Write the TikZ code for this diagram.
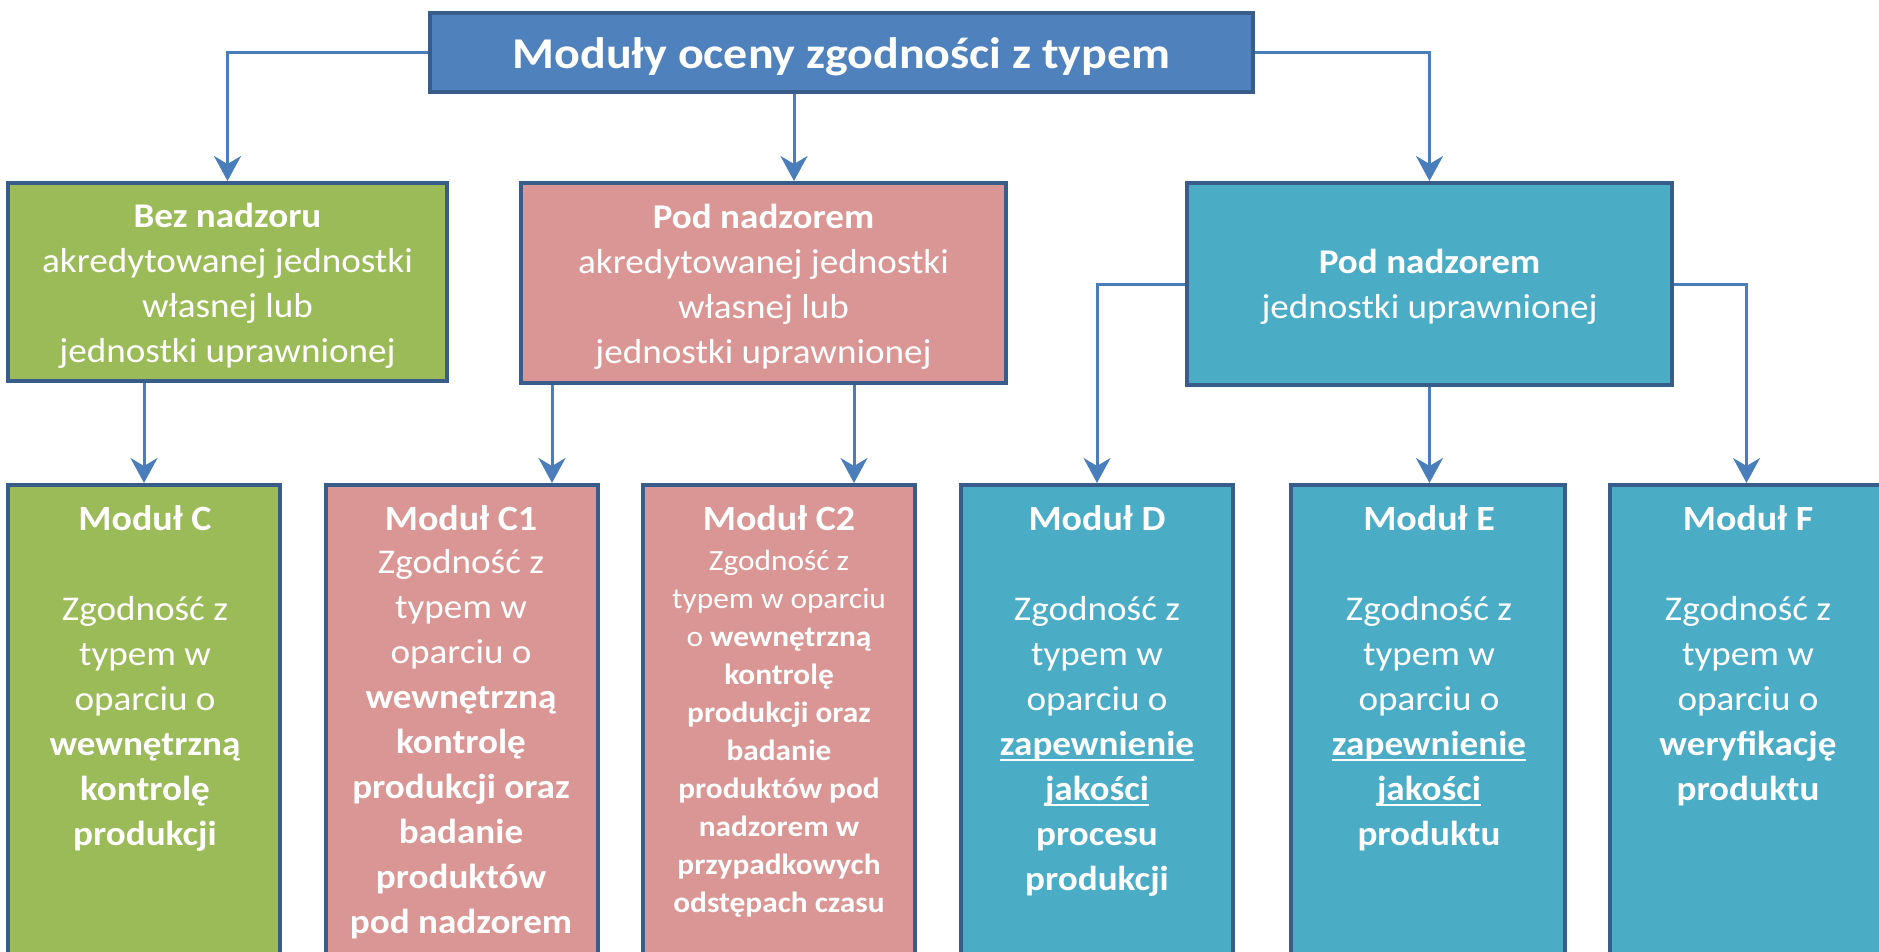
\documentclass[tikz,border=0pt]{standalone}
\usepackage{fontspec}
\setmainfont{Carlito}[FakeStretch=1.07]
\newfontfamily\titlefont{Carlito}[FakeStretch=1.09]
\usetikzlibrary{arrows.meta}
\definecolor{topfill}{HTML}{4F81BD}
\definecolor{edgecol}{HTML}{385D8A}
\definecolor{greenfill}{HTML}{9BBB59}
\definecolor{pinkfill}{HTML}{D99694}
\definecolor{tealfill}{HTML}{4BACC6}
\definecolor{linecol}{HTML}{4A7EBB}
\newcommand{\ulw}[1]{\sbox0{#1}\rlap{\rule[-6pt]{\wd0}{2.5pt}}\usebox0}
\tikzset{
  box/.style={draw=edgecol, line width=4pt, inner sep=0pt},
  modbox/.style={box, minimum width=272pt, minimum height=515pt},
  txt/.style={text=white, align=center, inner sep=0pt, anchor=north, font=\fontsize{34.7}{45}\selectfont},
  smalltxt/.style={txt, font=\fontsize{29.3}{38}\selectfont},
  head/.style={text=white, inner sep=0pt, anchor=base, font=\fontsize{35.5}{45}\selectfont\bfseries},
  ttl/.style={text=white, inner sep=0pt, anchor=base, font=\titlefont\fontsize{44}{50}\selectfont\bfseries},
  conn/.style={draw=linecol, line width=3pt, -{Stealth[length=25pt,width=27pt,inset=8pt]}}
}
\begin{document}
\begin{tikzpicture}[x=1pt,y=-1pt]
\useasboundingbox (0,0) rectangle (1879,951);
% boxes
\node[box, fill=topfill, minimum width=823pt, minimum height=79pt] (top) at (841.5,52.5) {};
\node[box, fill=greenfill, minimum width=439pt, minimum height=198pt] (bez) at (227.5,282) {};
\node[box, fill=pinkfill, minimum width=485pt, minimum height=200pt] (pink) at (763.5,283) {};
\node[box, fill=tealfill, minimum width=485pt, minimum height=202pt] (teal) at (1429.5,284) {};
\node[modbox, fill=greenfill] (mC) at (144,742.5) {};
\node[modbox, fill=pinkfill] (mC1) at (462,742.5) {};
\node[modbox, fill=pinkfill] (mC2) at (779,742.5) {};
\node[modbox, fill=tealfill] (mD) at (1097,742.5) {};
\node[modbox, fill=tealfill, minimum width=274pt] (mE) at (1428,742.5) {};
\node[modbox, fill=tealfill, minimum width=273pt] (mF) at (1746.5,742.5) {};
% texts
\node[ttl] (tt) at (841.5,68) {Moduły oceny zgodności z typem};
\node[txt] (tbez) at (227.5,195.5) {\strut\textbf{Bez nadzoru}\\akredytowanej jednostki\\własnej lub\\jednostki uprawnionej};
\node[txt] (tpink) at (763.5,196.5) {\strut\textbf{Pod nadzorem}\\akredytowanej jednostki\\własnej lub\\jednostki uprawnionej};
\node[txt] (tteal) at (1429.5,241.5) {\strut\textbf{Pod nadzorem}\\jednostki uprawnionej};
\node[head] (hC) at (145,530) {Moduł C};
\node[head] (hC1) at (461,530) {Moduł C1};
\node[head] (hC2) at (779,530) {Moduł C2};
\node[head] (hD) at (1097,530) {Moduł D};
\node[head] (hE) at (1429,530) {Moduł E};
\node[head] (hF) at (1748,530) {Moduł F};
\node[txt] (bC) at (145,588.5) {\strut Zgodność z\\typem w\\oparciu o\\\textbf{wewnętrzną}\\\textbf{kontrolę}\\\textbf{produkcji}};
\node[txt] (bC1) at (461,541.5) {\strut Zgodność z\\typem w\\oparciu o\\\textbf{wewnętrzną}\\\textbf{kontrolę}\\\textbf{produkcji oraz}\\\textbf{badanie}\\\textbf{produktów}\\\textbf{pod nadzorem}};
\node[smalltxt] (bC2) at (779,543.4) {\strut Zgodność z\\typem w oparciu\\o \textbf{wewnętrzną}\\\textbf{kontrolę}\\\textbf{produkcji oraz}\\\textbf{badanie}\\\textbf{produktów pod}\\\textbf{nadzorem w}\\\textbf{przypadkowych}\\\textbf{odstępach czasu}};
\node[txt] (bD) at (1097,588.5) {\strut Zgodność z\\typem w\\oparciu o\\\textbf{\ulw{zapewnienie}}\\\textbf{\ulw{jakości}}\\\textbf{procesu}\\\textbf{produkcji}};
\node[txt] (bE) at (1429,588.5) {\strut Zgodność z\\typem w\\oparciu o\\\textbf{\ulw{zapewnienie}}\\\textbf{\ulw{jakości}}\\\textbf{produktu}};
\node[txt] (bF) at (1748,588.5) {\strut Zgodność z\\typem w\\oparciu o\\\textbf{weryfikację}\\\textbf{produktu}};
% connectors
\coordinate (xmid) at (794,0);
\coordinate (xc1) at (552,0);
\coordinate (xc2) at (854,0);
\draw[conn] (top.west) -| (bez.north);
\draw[conn] (top.south -| xmid) -- (pink.north -| xmid);
\draw[conn] (top.east) -| (teal.north);
\draw[conn] (bez.south -| mC.north) -- (mC.north);
\draw[conn] (pink.south -| xc1) -- (mC1.north -| xc1);
\draw[conn] (pink.south -| xc2) -- (mC2.north -| xc2);
\draw[conn] (teal.west) -| (mD.north);
\draw[conn] (teal.south) -- (teal.south |- mE.north);
\draw[conn] (teal.east) -| (mF.north);
\end{tikzpicture}
\end{document}
